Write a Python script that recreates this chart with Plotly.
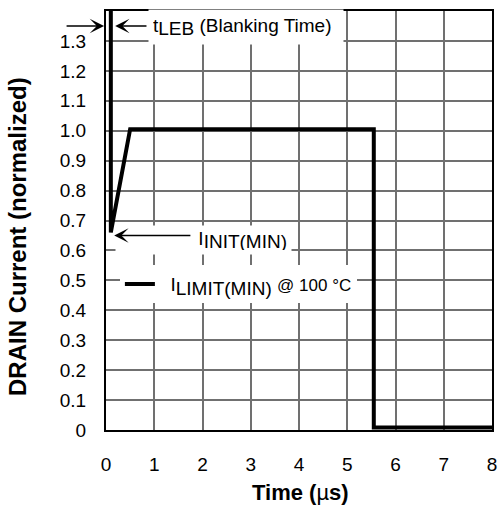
import plotly.graph_objects as go

# ---- data ----
time_us = [0.1, 0.1, 0.5, 5.55, 5.55, 8.0]
drain_norm = [1.4, 0.66, 1.005, 1.005, 0.008, 0.008]

x_ticks = [0, 1, 2, 3, 4, 5, 6, 7, 8]
y_ticks = [0, 0.1, 0.2, 0.3, 0.4, 0.5, 0.6, 0.7, 0.8, 0.9, 1.0, 1.1, 1.2, 1.3]
y_ticktext = ["0", "0.1", "0.2", "0.3", "0.4", "0.5", "0.6", "0.7", "0.8",
              "0.9", "1.0", "1.1", "1.2", "1.3"]

FONT = "Liberation Sans, Arial, Helvetica, sans-serif"

fig = go.Figure()
fig.add_trace(go.Scatter(
    x=time_us, y=drain_norm, mode="lines",
    line=dict(color="black", width=4),
    name="&nbsp;&nbsp;I<sub><span style='font-size:19px'>LIMIT(MIN)</span></sub> "
         "<span style='font-size:17px'>@ 100 °C</span>",
    showlegend=True, hoverinfo="skip",
))

axis_common = dict(
    showline=True, mirror=True, linecolor="black", linewidth=2,
    showgrid=True, gridcolor="#707070", gridwidth=1.6, zeroline=False,
    ticks="outside", tickcolor="rgba(0,0,0,0)",
    tickfont=dict(family=FONT, size=19, color="black"),
)

fig.update_xaxes(range=[0, 8], tickvals=x_ticks, ticklen=16, **axis_common)
fig.update_yaxes(range=[0, 1.4], tickvals=y_ticks, ticktext=y_ticktext,
                 ticklen=14, **axis_common)

ann = []
# tLEB label (white box)
ann.append(dict(
    x=0.87, y=1.345, xref="x", yref="y", xanchor="left", yanchor="middle",
    text="t<sub><span style='font-size:19px'>LEB</span></sub> "
         "<span style='font-size:19px'>(Blanking Time)</span>",
    font=dict(family=FONT, size=19, color="black"),
    showarrow=False, bgcolor="white", width=186, height=26, align="left",
    borderpad=4,
))
# I_INIT label (white box incl. arrow region)
ann.append(dict(
    x=0.19, y=0.635, xref="x", yref="y", xanchor="left", yanchor="middle",
    text="I<sub><span style='font-size:19px'>INIT(MIN)</span></sub>",
    font=dict(family=FONT, size=19, color="black"),
    showarrow=False, bgcolor="white", width=167, height=20, align="right",
    borderpad=4,
))
# arrows
arrow_style = dict(text="", showarrow=True, arrowhead=3, arrowsize=1.5,
                   arrowwidth=1.6, arrowcolor="black")
# arrow outside the plot, pointing at the left border
ann.append(dict(x=-0.005, y=1.35, xref="paper", yref="y",
                ax=-39, ay=0, axref="pixel", ayref="pixel", **arrow_style))
ann.append(dict(x=0.19, y=1.35, ax=0.87, ay=1.35, xref="x", yref="y",
                axref="x", ayref="y", **arrow_style))
ann.append(dict(x=0.17, y=0.65, ax=1.78, ay=0.65, xref="x", yref="y",
                axref="x", ayref="y", **arrow_style))

# axis titles
ann.append(dict(
    x=-0.2306, y=0.463, xref="paper", yref="paper", textangle=-90,
    text="<b>DRAIN Current (normalized)</b>", showarrow=False,
    font=dict(family=FONT, size=24, color="black"),
    xanchor="center", yanchor="middle",
))
ann.append(dict(
    x=0.5026, y=-0.150, xref="paper", yref="paper",
    text="<b>Time (</b>µ<b>s)</b>", showarrow=False,
    font=dict(family=FONT, size=22, color="black"),
    xanchor="center", yanchor="middle",
))

fig.update_layout(
    width=503, height=510,
    margin=dict(l=106, r=11, t=11, b=80, autoexpand=False),
    paper_bgcolor="white", plot_bgcolor="white",
    font=dict(family=FONT, color="black"),
    annotations=ann,
    legend=dict(
        x=0.036, y=0.348, xanchor="left", yanchor="middle",
        bgcolor="white", borderwidth=0,
        font=dict(family=FONT, size=19, color="black"),
        itemwidth=30,
    ),
)

fig.write_html(
    "out.html",
    config={"displayModeBar": False},
    post_script="document.body.style.margin='0';"
                "document.body.style.overflow='hidden';",
)
